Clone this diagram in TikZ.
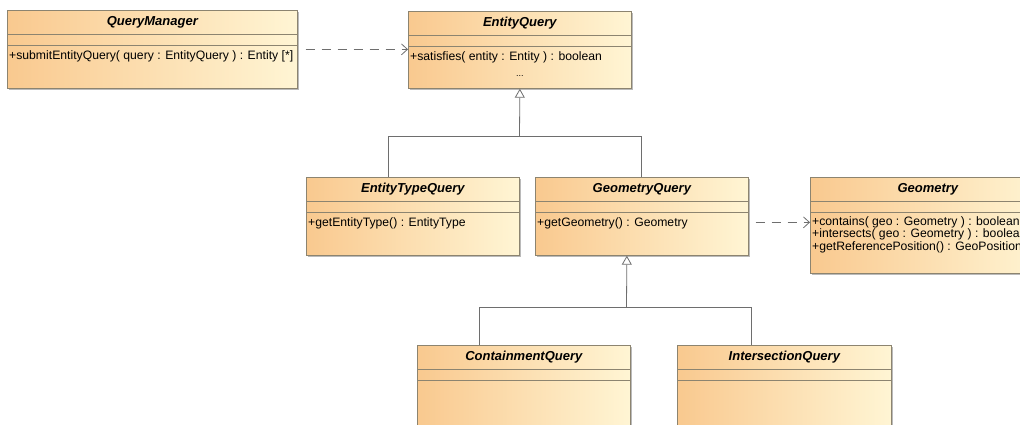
\documentclass[tikz,border=0pt]{standalone}
\usepackage{fontspec}
\setmainfont{Liberation Sans}
\newfontfamily\umlfont{Liberation Sans}
\usetikzlibrary{arrows.meta,shadows}

\definecolor{umlorange}{RGB}{249,201,143}
\definecolor{umlcream}{RGB}{255,245,212}
\definecolor{umlborder}{RGB}{140,132,112}
\definecolor{umlwire}{RGB}{110,110,110}

\tikzset{
  umlclass/.style={draw=umlborder, line width=0.7pt, left color=umlorange, right color=umlcream,
    anchor=north west, inner sep=0pt,
    drop shadow={shadow xshift=2pt, shadow yshift=-2pt, opacity=0.45, fill=black!60}},
  umltitle/.style={font=\umlfont\fontsize{13}{13}\selectfont\bfseries\itshape, inner sep=0pt},
  umlops/.style={font=\umlfont\fontsize{12.2}{11}\selectfont, align=left, anchor=north west,
    inner xsep=2pt, inner ysep=5pt},
  umlsep/.style={umlborder, line width=0.6pt},
  dependency/.style={draw=umlwire, line width=0.8pt, dash pattern=on 9pt off 7pt,
    -{Straight Barb[length=6pt,width=11pt]}},
  genline/.style={draw=umlwire, line width=0.8pt},
  inherit/.style={genline, -{Triangle[open, length=9pt, width=10pt, fill=white]}},
}

\begin{document}
\begin{tikzpicture}[x=1pt, y=-1pt]

\useasboundingbox (0,0) rectangle (1020,424);
\clip (0,0) rectangle (1020,424);
\fill[white] (0,0) rectangle (1020,424);

% === Class boxes ===
\node[umlclass, minimum width=290pt, minimum height=78pt]  (qm)  at (7,10)    {};
\node[umlclass, minimum width=223pt, minimum height=77pt]  (eq)  at (408,11)  {};
\node[umlclass, minimum width=213pt, minimum height=78pt]  (etq) at (306,177) {};
\node[umlclass, minimum width=213pt, minimum height=78pt]  (gq)  at (535,177) {};
\node[umlclass, minimum width=235pt, minimum height=96pt]  (geo) at (810,177) {};
\node[umlclass, minimum width=213pt, minimum height=100pt] (cq)  at (417,345) {};
\node[umlclass, minimum width=214pt, minimum height=100pt] (iq)  at (677,345) {};

% === Compartments and class names ===
\foreach \c/\t in {qm/QueryManager, eq/EntityQuery, etq/EntityTypeQuery, gq/GeometryQuery,
                   geo/Geometry, cq/ContainmentQuery, iq/IntersectionQuery} {
  \draw[umlsep] ([yshift=-24pt]\c.north west) -- ([yshift=-24pt]\c.north east);
  \draw[umlsep] ([yshift=-35.5pt]\c.north west) -- ([yshift=-35.5pt]\c.north east);
  \node[umltitle] (\c-title) at ([yshift=-12pt]\c.north) {\t};
}

% === Operations ===
\node[umlops] (qm-ops)  at ([yshift=-35.5pt]qm.north west)  {+submitEntityQuery( query : EntityQuery ) : Entity [*]};
\node[umlops] (eq-ops)  at ([yshift=-35.5pt]eq.north west)  {+satisfies( entity : Entity ) : boolean};
\node[umltitle, font=\umlfont\fontsize{9}{10}\selectfont] (eq-dots) at ([yshift=-65pt]eq.north) {...};
\node[umlops] (etq-ops) at ([yshift=-35.5pt]etq.north west) {+getEntityType() : EntityType};
\node[umlops] (gq-ops)  at ([yshift=-35.5pt]gq.north west)  {+getGeometry() : Geometry};
\node[umlops, inner ysep=4pt] (geo-ops) at ([yshift=-35.5pt]geo.north west)
  {+contains( geo : Geometry ) : boolean\\+intersects( geo : Geometry ) : boolean\\+getReferencePosition() : GeoPosition};

% === Dependencies ===
\draw[dependency] ([xshift=8pt]qm.east) -- (eq.west |- qm.east);
\draw[dependency] ([xshift=7pt,yshift=-6pt]gq.east) -- ([yshift=-6pt]gq.east -| geo.west);

% === Generalization: EntityQuery ===
\coordinate (eq-join) at (519.5,136);
\coordinate (etq-in) at ([xshift=-24pt]etq.north);
\draw[genline] (etq-in) |- (gq.north |- eq-join) -- (gq.north);
\draw[inherit] (eq-join) -- (eq.south);

% === Generalization: GeometryQuery ===
\coordinate (gq-join) at (626.5,307);
\coordinate (gq-out) at ([xshift=-15pt]gq.south);
\coordinate (cq-in) at ([xshift=-44pt]cq.north);
\coordinate (iq-in) at ([xshift=-33pt]iq.north);
\draw[genline] (cq-in) |- (iq-in |- gq-join) -- (iq-in);
\draw[inherit] (gq-join) -- (gq-out);

\end{tikzpicture}
\end{document}
